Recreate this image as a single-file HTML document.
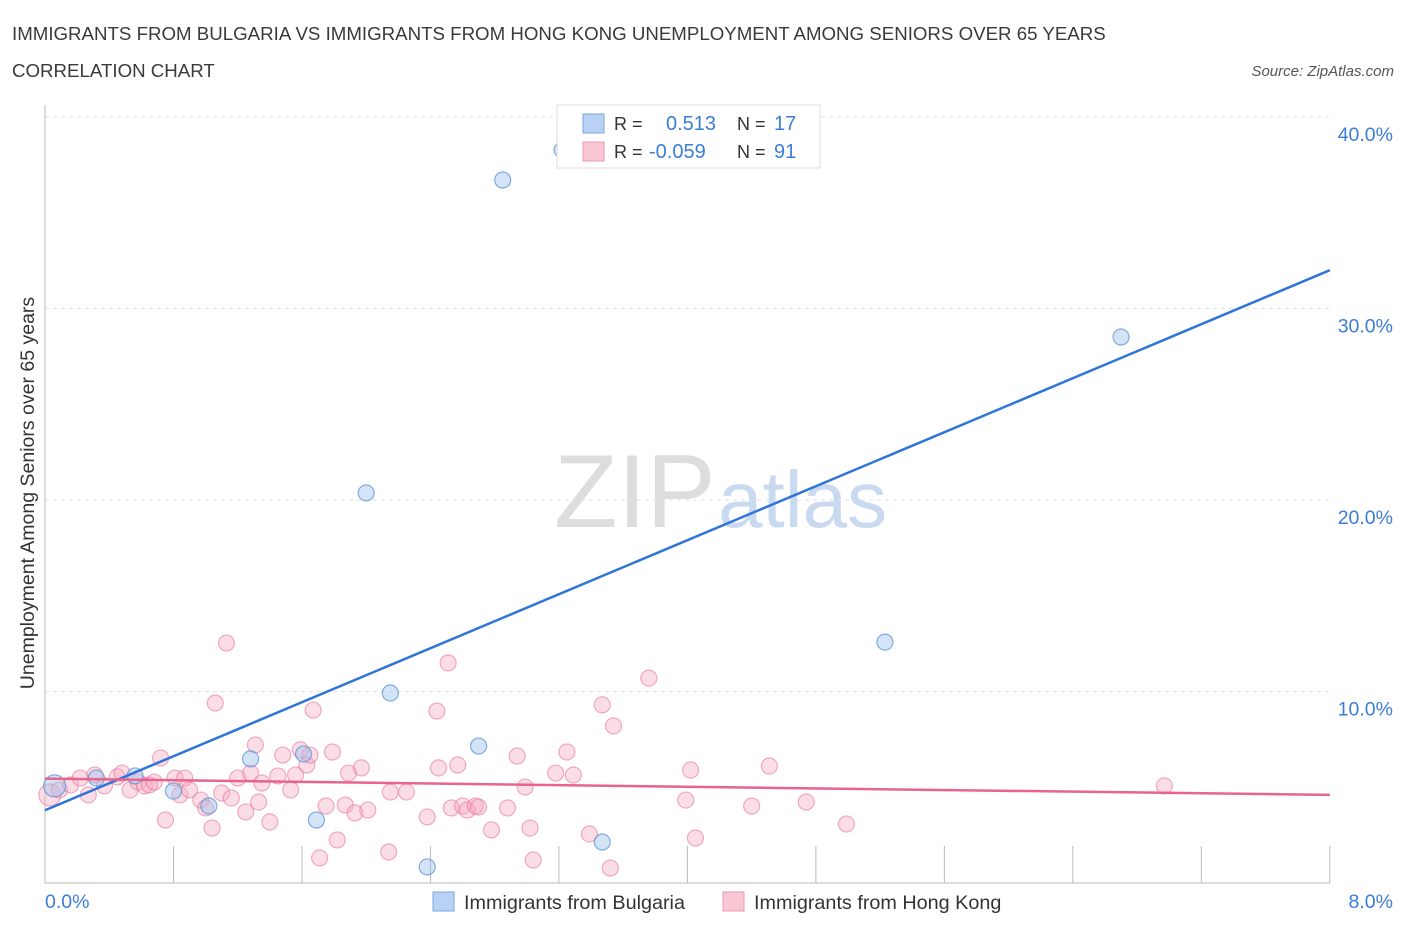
<!DOCTYPE html>
<html><head><meta charset="utf-8"><style>
body{margin:0;background:#fff;font-family:"Liberation Sans",sans-serif;}
svg text{font-family:"Liberation Sans",sans-serif;}
</style></head><body>
<svg id="c" width="1406" height="930" xmlns="http://www.w3.org/2000/svg">
<text x="12" y="40" font-size="18.7" fill="#3a3a3a">IMMIGRANTS FROM BULGARIA VS IMMIGRANTS FROM HONG KONG UNEMPLOYMENT AMONG SENIORS OVER 65 YEARS</text>
<text x="12" y="77" font-size="18.7" fill="#3a3a3a">CORRELATION CHART</text>
<text x="1394" y="76" font-size="15" fill="#555" font-style="italic" text-anchor="end">Source: ZipAtlas.com</text>
<text x="554" y="527" font-size="104" fill="#ddd" font-family="Liberation Serif">ZIP</text>
<text x="718" y="527" font-size="80" fill="#c9daf0">atlas</text>
<g id="grid"></g><g id="axes"></g><g id="pts"></g><g id="lines"></g>
<text transform="translate(34,493) rotate(-90)" font-size="19.5" fill="#333" text-anchor="middle">Unemployment Among Seniors over 65 years</text>
<text x="45" y="908" font-size="19.5" fill="#3b7dd8">0.0%</text>
<text x="1393" y="908" font-size="19.5" fill="#3b7dd8" text-anchor="end">8.0%</text>
<g>
<rect x="557" y="105" width="263" height="63" fill="#fff" stroke="#ddd"/>
<rect x="583" y="114" width="21" height="19" fill="#b9d2f3" stroke="#7aa6df"/>
<rect x="583" y="142" width="21" height="19" fill="#f9c6d3" stroke="#ef9ab3"/>
<text x="614" y="130" font-size="18" fill="#333">R =</text><text x="666" y="130" font-size="20" fill="#3b7dd8">0.513</text>
<text x="737" y="130" font-size="18" fill="#333">N =</text><text x="774" y="130" font-size="20" fill="#3b7dd8">17</text>
<text x="614" y="158" font-size="18" fill="#333">R =</text><text x="649" y="158" font-size="20" fill="#3b7dd8">-0.059</text>
<text x="737" y="158" font-size="18" fill="#333">N =</text><text x="774" y="158" font-size="20" fill="#3b7dd8">91</text>
</g>
<g>
<rect x="433" y="892" width="21" height="19" fill="#b9d2f3" stroke="#7aa6df"/>
<text x="464" y="909" font-size="19.8" fill="#333">Immigrants from Bulgaria</text>
<rect x="723" y="892" width="21" height="19" fill="#f9c6d3" stroke="#ef9ab3"/>
<text x="754" y="909" font-size="19.8" fill="#333">Immigrants from Hong Kong</text>
</g>
</svg>
<script>
const yTicks=[10,20,30,40];
const yTickLabels=["10.0%","20.0%","30.0%","40.0%"];
const blueX=[0.06,0.32,0.56,0.80,1.02,1.28,1.61,1.69,2.00,2.15,2.38,2.70,2.85,3.22,3.47,5.23,6.70];
const blueY=[5.07,5.48,5.59,4.80,4.02,6.48,6.74,3.29,20.37,9.92,0.84,7.15,36.71,38.28,2.14,12.58,28.51];
const pinkX=[0.03,0.09,0.16,0.22,0.27,0.31,0.37,0.45,0.48,0.53,0.58,0.62,0.65,0.68,0.72,0.75,0.81,0.84,0.87,0.90,0.97,1.00,1.04,1.06,1.10,1.13,1.16,1.20,1.25,1.28,1.31,1.33,1.35,1.40,1.45,1.48,1.53,1.56,1.59,1.63,1.65,1.67,1.71,1.75,1.79,1.82,1.87,1.89,1.93,1.97,2.01,2.14,2.15,2.25,2.38,2.44,2.45,2.51,2.53,2.57,2.60,2.63,2.68,2.70,2.78,2.88,2.94,2.99,3.02,3.04,3.18,3.25,3.29,3.39,3.47,3.52,3.54,3.76,3.99,4.02,4.05,4.40,4.51,4.74,4.99,6.97];
const pinkY=[4.60,4.86,5.12,5.48,4.60,5.64,5.07,5.54,5.74,4.86,5.27,5.07,5.12,5.27,6.53,3.29,5.48,4.60,5.48,4.86,4.33,3.92,2.87,9.40,4.70,12.53,4.44,5.48,3.71,5.74,7.21,4.23,5.22,3.19,5.59,6.68,4.86,5.64,6.95,6.16,6.68,9.03,1.31,4.02,6.84,2.25,4.07,5.74,3.66,6.01,3.81,1.62,4.75,4.75,3.45,8.98,6.01,11.49,3.92,6.16,4.02,3.81,4.02,3.97,2.77,3.92,6.63,5.01,2.87,1.20,5.74,6.84,5.64,2.56,9.30,0.78,8.20,10.70,4.33,5.90,2.35,4.02,6.11,4.23,3.08,5.07];
const blueTrend=[3.8,32.0];
const pinkTrend=[5.45,4.6];
const X=v=>45+v*160.6, Y=v=>883-v*19.15;
const NS="http://www.w3.org/2000/svg";
function mk(t,a,p){const e=document.createElementNS(NS,t);for(const k in a)e.setAttribute(k,a[k]);document.getElementById(p).appendChild(e);return e;}
yTicks.forEach((t,i)=>{
 const l=mk('line',{x1:45,x2:1330,y1:Y(t),y2:Y(t),stroke:'#e2e2e2','stroke-dasharray':'4,4'},'grid');
 
 
 const tx=mk('text',{x:1393,y:Y(t)+24,'font-size':19.5,fill:'#3b7dd8','text-anchor':'end'},'grid');
 tx.textContent=yTickLabels[i];
 
 
});
const ax=mk('line',{x1:45,x2:45,y1:105,y2:883,stroke:'#bbb'},'axes');


const bx=mk('line',{x1:45,x2:1330,y1:883,y2:883,stroke:'#bbb'},'axes');


for(let i=1;i<=10;i++){
 const t=mk('line',{x1:X(i*0.8),x2:X(i*0.8),y1:846,y2:883,stroke:'#bbb'},'axes');
 
 
}
pinkX.forEach((x,i)=>{
 const c=mk('circle',{cx:X(x),cy:Y(pinkY[i]),r:i==0?11:8,fill:'rgba(246,170,192,0.4)',stroke:'rgba(233,120,155,0.6)','stroke-width':1.2},'pts');
 
 
});
blueX.forEach((x,i)=>{
 const c=mk('circle',{cx:X(x),cy:Y(blueY[i]),r:i==0?11:8,fill:'rgba(160,195,238,0.45)',stroke:'rgba(80,140,215,0.7)','stroke-width':1.2},'pts');
 
 
});
const bl=mk('line',{x1:X(0),x2:X(8),y1:Y(blueTrend[0]),y2:Y(blueTrend[1]),stroke:'#2f74d8','stroke-width':2.5},'lines');


const pl=mk('line',{x1:X(0),x2:X(8),y1:Y(pinkTrend[0]),y2:Y(pinkTrend[1]),stroke:'#e8648f','stroke-width':2.5},'lines');


</script>
</body></html>
